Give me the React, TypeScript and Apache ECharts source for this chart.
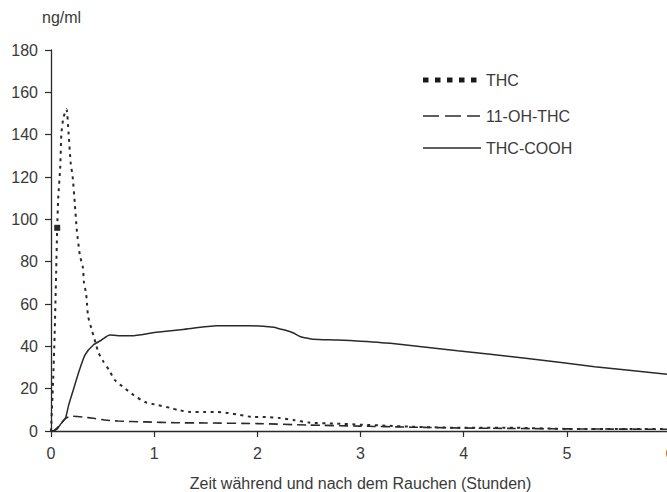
import React, { useEffect, useRef } from "react";
import * as echarts from "echarts";

const xTicks = [0, 1, 2, 3, 4, 5, 6];
const yTicks = [0, 20, 40, 60, 80, 100, 120, 140, 160, 180];

const seriesNames = ["THC", "11-OH-THC", "THC-COOH"];

const thcHours = [0, 0.02, 0.035, 0.05, 0.06, 0.07, 0.09, 0.1, 0.12, 0.15, 0.17, 0.19, 0.21, 0.23, 0.25, 0.28, 0.31, 0.32, 0.34, 0.35, 0.36, 0.4, 0.43, 0.46, 0.51, 0.56, 0.62, 0.72, 0.8, 0.91, 1.03, 1.16, 1.23, 1.35, 1.5, 1.6, 1.72, 1.83, 1.96, 2.08, 2.22, 2.35, 2.5, 2.75, 3.0, 3.25, 3.5, 4.0, 4.5, 5.0, 5.5, 6.0];
const thcValues = [0, 23, 45, 75, 96, 110, 125, 140, 148, 152, 141, 127, 120, 108, 95, 83, 77, 70, 65, 59.5, 54, 47, 42, 37, 32.6, 29, 24, 20, 17, 13.7, 12.3, 10.9, 9.9, 9, 9, 9, 8.5, 7.6, 6.6, 6.6, 6.1, 5.2, 4, 3.5, 3, 2.5, 2, 1.5, 1.5, 1, 1, 1];

const ohHours = [0, 0.03, 0.07, 0.14, 0.2, 0.31, 0.41, 0.52, 0.65, 0.91, 1.2, 1.5, 2.0, 2.5, 3.0, 3.5, 4.0, 4.5, 5.0, 5.5, 6.0];
const ohValues = [0, 0.3, 2, 6, 7, 6.6, 6, 5.2, 4.7, 4.3, 3.9, 3.8, 3.5, 2.8, 2.3, 1.8, 1.4, 1.2, 1.0, 0.9, 0.8];

const coohHours = [0, 0.02, 0.06, 0.09, 0.14, 0.17, 0.22, 0.27, 0.33, 0.41, 0.49, 0.57, 0.7, 0.78, 1.0, 1.28, 1.61, 1.93, 2.16, 2.22, 2.29, 2.35, 2.42, 2.48, 2.54, 2.77, 2.9, 3.29, 3.94, 4.62, 5.27, 5.98, 6.0];
const coohValues = [0, 0, 1, 3, 6, 12, 20, 28, 36, 40.6, 43, 45.3, 45, 45, 46.5, 48, 49.7, 49.7, 49, 48.2, 47.4, 46.3, 44.5, 43.9, 43.4, 43, 42.7, 41.4, 37.9, 34.3, 30.4, 26.8, 26.7];

// data point drawn with a square marker
const thcMarkedHour = 0.06;

const FONT = "'Liberation Sans', Arial, sans-serif";
const TEXT = "#3a3a3a";
const LINE = "#2a2a2a";

function pairs(xs: number[], ys: number[], markHour?: number) {
  return xs.map((x, i) =>
    markHour !== undefined && x === markHour
      ? { value: [x, ys[i]], symbol: "rect", symbolSize: 6, itemStyle: { color: LINE } }
      : [x, ys[i]]
  );
}

export default function App() {
  const ref = useRef<HTMLDivElement>(null);
  useEffect(() => {
    if (!ref.current) return;
    const chart = echarts.init(ref.current, null, { renderer: "svg" });
    const legendX1 = 423;
    const legendX2 = 480;
    const legendTextX = 486;
    const rows = [80, 116, 148];
    chart.setOption({
      animation: false,
      backgroundColor: "#fff",
      grid: {
        left: 51,
        top: 50,
        width: 619,
        height: 381,
        containLabel: false,
        outerBoundsMode: "none",
      },
      xAxis: {
        type: "value",
        min: xTicks[0],
        max: xTicks[xTicks.length - 1],
        interval: 1,
        name: "Zeit während und nach dem Rauchen (Stunden)",
        nameLocation: "middle",
        nameGap: 44,
        nameTextStyle: { color: TEXT, fontSize: 16, fontFamily: FONT },
        axisLine: { show: true, lineStyle: { color: LINE, width: 1.3 } },
        axisTick: { show: true, inside: false, length: 6, lineStyle: { color: LINE, width: 1.2 } },
        axisLabel: { color: TEXT, fontSize: 16, fontFamily: FONT, margin: 14 },
        splitLine: { show: false },
      },
      yAxis: {
        type: "value",
        min: yTicks[0],
        max: yTicks[yTicks.length - 1],
        interval: 20,
        axisLine: { show: true, lineStyle: { color: LINE, width: 1.3 } },
        axisTick: { show: true, inside: false, length: 6, lineStyle: { color: LINE, width: 1.2 } },
        axisLabel: { color: TEXT, fontSize: 16, fontFamily: FONT, margin: 13 },
        splitLine: { show: false },
      },
      series: [
        {
          name: seriesNames[0],
          type: "line",
          data: pairs(thcHours, thcValues, thcMarkedHour),
          symbol: "none",
          smooth: 0.2,
          lineStyle: { color: LINE, width: 2, type: [3, 4.5] },
          z: 3,
        },
        {
          name: seriesNames[1],
          type: "line",
          data: pairs(ohHours, ohValues),
          symbol: "none",
          smooth: 0.2,
          lineStyle: { color: LINE, width: 1.6, type: [9, 5] },
          z: 2,
        },
        {
          name: seriesNames[2],
          type: "line",
          data: pairs(coohHours, coohValues),
          symbol: "none",
          smooth: 0.2,
          lineStyle: { color: LINE, width: 1.5, type: "solid" },
          z: 2,
        },
      ],
      graphic: [
        {
          type: "text",
          left: 42,
          top: 9,
          style: { text: "ng/ml", fill: TEXT, font: `16px ${FONT}` },
        },
        {
          type: "line",
          shape: { x1: legendX1, y1: rows[0], x2: legendX2 - 3, y2: rows[0] },
          style: { stroke: "#1a1a1a", lineWidth: 5, lineDash: [5.5, 6.5] },
        },
        {
          type: "line",
          shape: { x1: legendX1, y1: rows[1], x2: legendX2, y2: rows[1] },
          style: { stroke: LINE, lineWidth: 1.6, lineDash: [16, 6] },
        },
        {
          type: "line",
          shape: { x1: legendX1, y1: rows[2], x2: legendX2 + 1, y2: rows[2] },
          style: { stroke: LINE, lineWidth: 1.6 },
        },
        ...seriesNames.map((n, i) => ({
          type: "text",
          x: legendTextX,
          y: rows[i],
          style: { text: n, fill: TEXT, font: `16px ${FONT}`, verticalAlign: "middle", align: "left" },
        })),
      ],
    });
    return () => chart.dispose();
  }, []);
  return (
    <div
      ref={ref}
      style={{ position: "absolute", left: 0, top: 0, width: 667, height: 492, background: "#fff" }}
    />
  );
}
